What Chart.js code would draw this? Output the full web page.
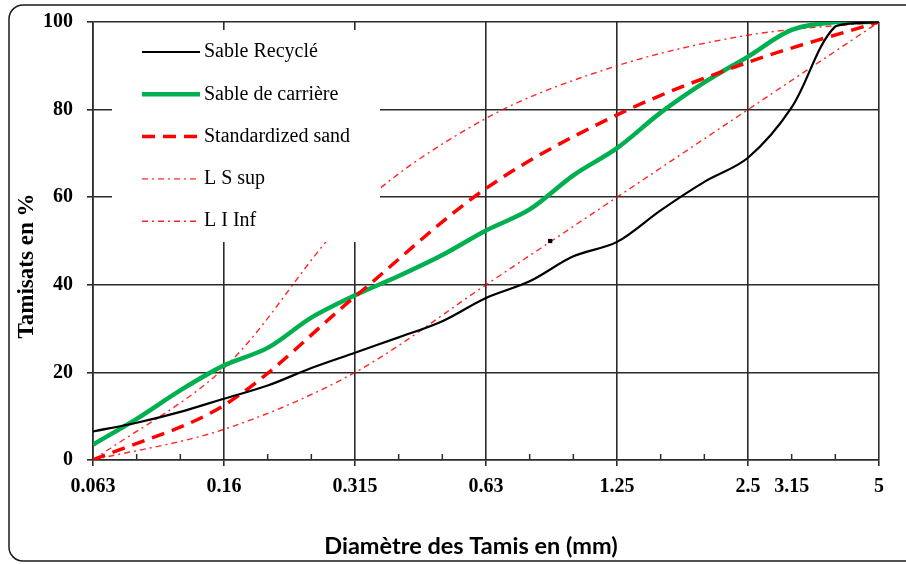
<!DOCTYPE html>
<html lang="fr">
<head>
  <meta charset="UTF-8" />
  <title>Courbes granulométriques</title>
  <script src="https://cdn.jsdelivr.net/npm/chart.js"></script>
  <style>
    html, body {
      margin: 0;
      padding: 0;
      background: #fff;
      overflow: hidden;
    }
    canvas {
      display: block;
    }
  </style>
</head>
<body>
  <canvas id="granuloChart" width="906" height="564"></canvas>

  <script>
    // x axis is in sieve slots: 0.063 mm at slot 0, one major step every 3 slots, 5 mm at slot 18
    const sieveSlots = [0, 1, 2, 3, 4, 5, 6, 7, 8, 9, 10, 11, 12, 13, 14, 15, 16, 17, 18];
    const limitSlots = [0, 3, 6, 9, 12, 15, 18];
    const tickSlots = [0, 3, 6, 9, 12, 15, 16, 18];
    const tickLabels = ['0.063', '0.16', '0.315', '0.63', '1.25', '2.5', '3.15', '5'];

    // passing percentages
    const sableRecycle = [6.5, 8.5, 11, 14, 17, 21, 24.5, 28, 31.7, 37, 40.8, 46.5, 49.8, 57, 63.5, 69, 80.5, 99, 100];
    const sableCarriere = [3.5, 9.4, 15.9, 21.6, 25.6, 32.5, 37.6, 42, 46.8, 52.4, 57.2, 65, 71.2, 79.3, 86.2, 92.1, 98.2, 100, 100];
    const standardizedSand = [0, 12.5, 37.3, 62, 78.8, 90.8, 100];
    const limiteSup = [0, 21, 57, 78, 90, 97, 100];
    const limiteInf = [0, 7, 20, 40, 60, 80, 100];

    // lone marker sitting near 1 mm
    const markerSlots = [10.47];
    const markerValues = [50];

    function toPoints(xs, ys) {
      return xs.map((x, i) => ({ x: x, y: ys[i] }));
    }

    const serif = "'Liberation Serif', 'Times New Roman', serif";
    const gridColor = '#2b2b2b';

    // white background + rounded frame around the whole figure
    const framePlugin = {
      id: 'frame',
      beforeDraw(chart) {
        const ctx = chart.ctx;
        ctx.save();
        ctx.fillStyle = '#fff';
        ctx.fillRect(0, 0, chart.width, chart.height);
        ctx.strokeStyle = '#1a1a1a';
        ctx.lineWidth = 1.5;
        ctx.beginPath();
        ctx.roundRect(9, 5, 930, 556, 14);
        ctx.stroke();
        ctx.restore();
      }
    };

    // small inward ticks between the labelled sieves + legend box inside the plot
    const extrasPlugin = {
      id: 'extras',
      afterDatasetsDraw(chart) {
        const ctx = chart.ctx;
        const xs = chart.scales.x;
        const bottom = chart.chartArea.bottom;

        ctx.save();
        ctx.strokeStyle = gridColor;
        ctx.lineWidth = 1.5;
        sieveSlots.forEach(s => {
          if (s % 3 === 0) return;
          const px = xs.getPixelForValue(s);
          ctx.beginPath();
          ctx.moveTo(px, bottom);
          ctx.lineTo(px, bottom - 6);
          ctx.stroke();
        });

        // legend
        ctx.fillStyle = '#fff';
        ctx.fillRect(112, 30, 268, 212);
        ctx.font = '20px ' + serif;
        ctx.textBaseline = 'middle';
        let row = 0;
        chart.data.datasets.forEach(ds => {
          if (!ds.label) return;
          const y = 52 + row * 42.3;
          ctx.strokeStyle = ds.borderColor;
          ctx.lineWidth = ds.borderWidth;
          ctx.setLineDash(ds.borderDash || []);
          ctx.beginPath();
          ctx.moveTo(142, y);
          ctx.lineTo(200, y);
          ctx.stroke();
          ctx.setLineDash([]);
          ctx.fillStyle = '#000';
          ctx.fillText(ds.label, 204, y);
          row++;
        });
        ctx.restore();
      },
      afterDraw(chart) {
        const ctx = chart.ctx;
        ctx.save();
        ctx.fillStyle = '#000';

        // x axis title
        ctx.font = "bold 23.5px Lato, 'Open Sans', sans-serif";
        ctx.textAlign = 'center';
        ctx.textBaseline = 'alphabetic';
        ctx.fillText('Diamètre des Tamis en (mm)', 471, 554);

        // y axis title
        ctx.translate(33, 266);
        ctx.rotate(-Math.PI / 2);
        ctx.font = 'bold 23px ' + serif;
        ctx.fillText('Tamisats en %', 0, 0);
        ctx.restore();
      }
    };

    const ctx = document.getElementById('granuloChart').getContext('2d');

    new Chart(ctx, {
      type: 'line',
      data: {
        datasets: [
          {
            label: 'Sable Recyclé',
            data: toPoints(sieveSlots, sableRecycle),
            borderColor: '#000000',
            borderWidth: 2.2,
            order: 1
          },
          {
            label: 'Sable de carrière',
            data: toPoints(sieveSlots, sableCarriere),
            borderColor: '#00b050',
            borderWidth: 4.5,
            order: 3
          },
          {
            label: 'Standardized sand',
            data: toPoints(limitSlots, standardizedSand),
            borderColor: '#ff0000',
            borderWidth: 3.5,
            borderDash: [13, 8],
            order: 2
          },
          {
            label: 'L S sup',
            data: toPoints(limitSlots, limiteSup),
            borderColor: 'rgba(255, 0, 0, 0.85)',
            borderWidth: 1.4,
            borderDash: [6, 4, 2, 4],
            order: 4
          },
          {
            label: 'L I Inf',
            data: toPoints(limitSlots, limiteInf),
            borderColor: 'rgba(255, 0, 0, 0.85)',
            borderWidth: 1.4,
            borderDash: [6, 4, 2, 4],
            order: 5
          },
          {
            data: toPoints(markerSlots, markerValues),
            showLine: false,
            pointStyle: 'rect',
            pointRadius: 3,
            backgroundColor: '#000',
            borderColor: '#000',
            borderWidth: 0,
            order: 0
          }
        ]
      },
      options: {
        responsive: false,
        devicePixelRatio: 1,
        animation: false,
        layout: {
          padding: { top: 22, right: 27, left: 0, bottom: 0 }
        },
        elements: {
          line: { tension: 0.33, fill: false },
          point: { radius: 0 }
        },
        plugins: {
          legend: { display: false },
          tooltip: { enabled: false }
        },
        scales: {
          x: {
            type: 'linear',
            min: 0,
            max: 18,
            afterFit(scale) {
              scale.height = 104;
              scale.paddingLeft = 0;
              scale.paddingRight = 0;
            },
            afterBuildTicks(scale) {
              scale.ticks = tickSlots.map(v => ({ value: v }));
            },
            ticks: {
              autoSkip: false,
              maxRotation: 0,
              padding: 9,
              color: '#000',
              font: { family: serif, size: 20, weight: 'bold' },
              callback: (v) => tickLabels[tickSlots.indexOf(v)]
            },
            grid: {
              color: (c) => (c.tick && c.tick.value === 16 ? 'rgba(0,0,0,0)' : gridColor),
              lineWidth: 1.6,
              tickLength: 6
            },
            border: { color: gridColor, width: 1.6 }
          },
          y: {
            min: 0,
            max: 100,
            afterFit(scale) {
              scale.width = 93;
              scale.paddingTop = 0;
              scale.paddingBottom = 0;
            },
            ticks: {
              stepSize: 20,
              padding: 14,
              color: '#000',
              font: { family: serif, size: 20, weight: 'bold' }
            },
            grid: {
              color: gridColor,
              lineWidth: 1.6,
              tickLength: 6
            },
            border: { color: gridColor, width: 1.6 }
          }
        }
      },
      plugins: [framePlugin, extrasPlugin]
    });
  </script>
</body>
</html>
